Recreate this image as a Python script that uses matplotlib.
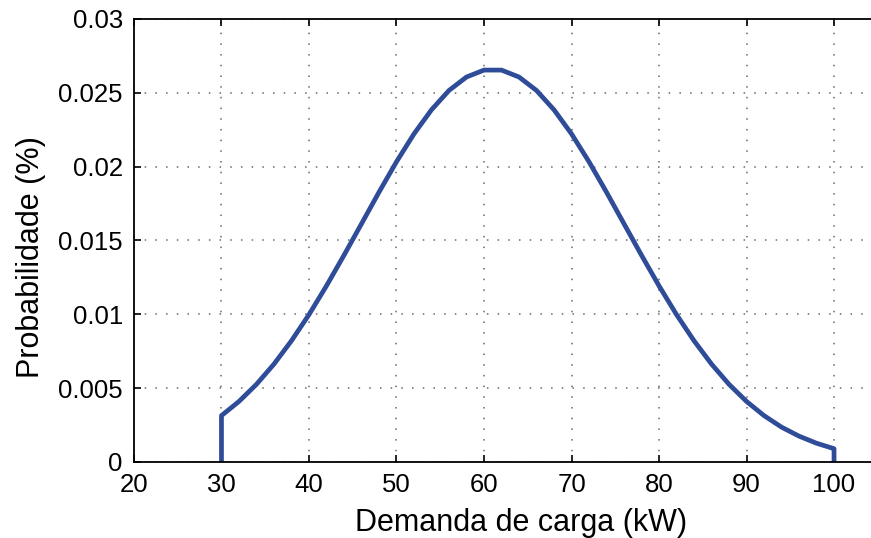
import numpy as np
import matplotlib
matplotlib.use('Agg')
import matplotlib.pyplot as plt

plt.rcParams['font.family'] = ['Liberation Sans', 'DejaVu Sans']

# load demand (kW) and probability read at 2 kW steps
demanda = [30, 32, 34, 36, 38, 40, 42, 44, 46, 48, 50, 52, 54, 56, 58, 60, 62,
           64, 66, 68, 70, 72, 74, 76, 78, 80, 82, 84, 86, 88, 90, 92, 94, 96, 98, 100]
prob = [0.00314, 0.00410, 0.00526, 0.00663, 0.00821, 0.00998, 0.01193, 0.01400,
        0.01613, 0.01827, 0.02033, 0.02222, 0.02385, 0.02516, 0.02607, 0.02654,
        0.02654, 0.02607, 0.02516, 0.02385, 0.02222, 0.02033, 0.01827, 0.01613,
        0.01400, 0.01193, 0.00998, 0.00821, 0.00663, 0.00526, 0.00410, 0.00314,
        0.00236, 0.00175, 0.00127, 0.00090]

xticks = [20, 30, 40, 50, 60, 70, 80, 90, 100]
yticks = [0, 0.005, 0.01, 0.015, 0.02, 0.025, 0.03]
ytick_labels = ['0', '0.005', '0.01', '0.015', '0.02', '0.025', '0.03']

# closed at both ends down to zero
x = [demanda[0]] + demanda + [demanda[-1]]
y = [0] + prob + [0]

fig = plt.figure(figsize=(8.71, 5.38), dpi=100)
ax = fig.add_axes([0.1538, 0.1413, 0.854, 0.8234])
ax.plot(x, y, color='#2F4C99', lw=3.4, solid_joinstyle='round')

ax.set_xlim(20, 105)
ax.set_ylim(0, 0.03)
ax.set_xticks(xticks)
ax.set_yticks(yticks)
ax.set_yticklabels(ytick_labels)
ax.tick_params(direction='in', length=5, width=1.2, labelsize=18.5, top=True,
               right=False, pad=8)
ax.grid(True, linestyle=(0, (1, 6)), color='#444444', lw=1.1, alpha=0.8)
for s in ax.spines.values():
    s.set_linewidth(1.3)

ax.set_xlabel('Demanda de carga (kW)', fontsize=22, labelpad=8, x=0.52)
ax.set_ylabel('Probabilidade (%)', fontsize=22, labelpad=9, y=0.463)

fig.savefig('out.png', dpi=100)
